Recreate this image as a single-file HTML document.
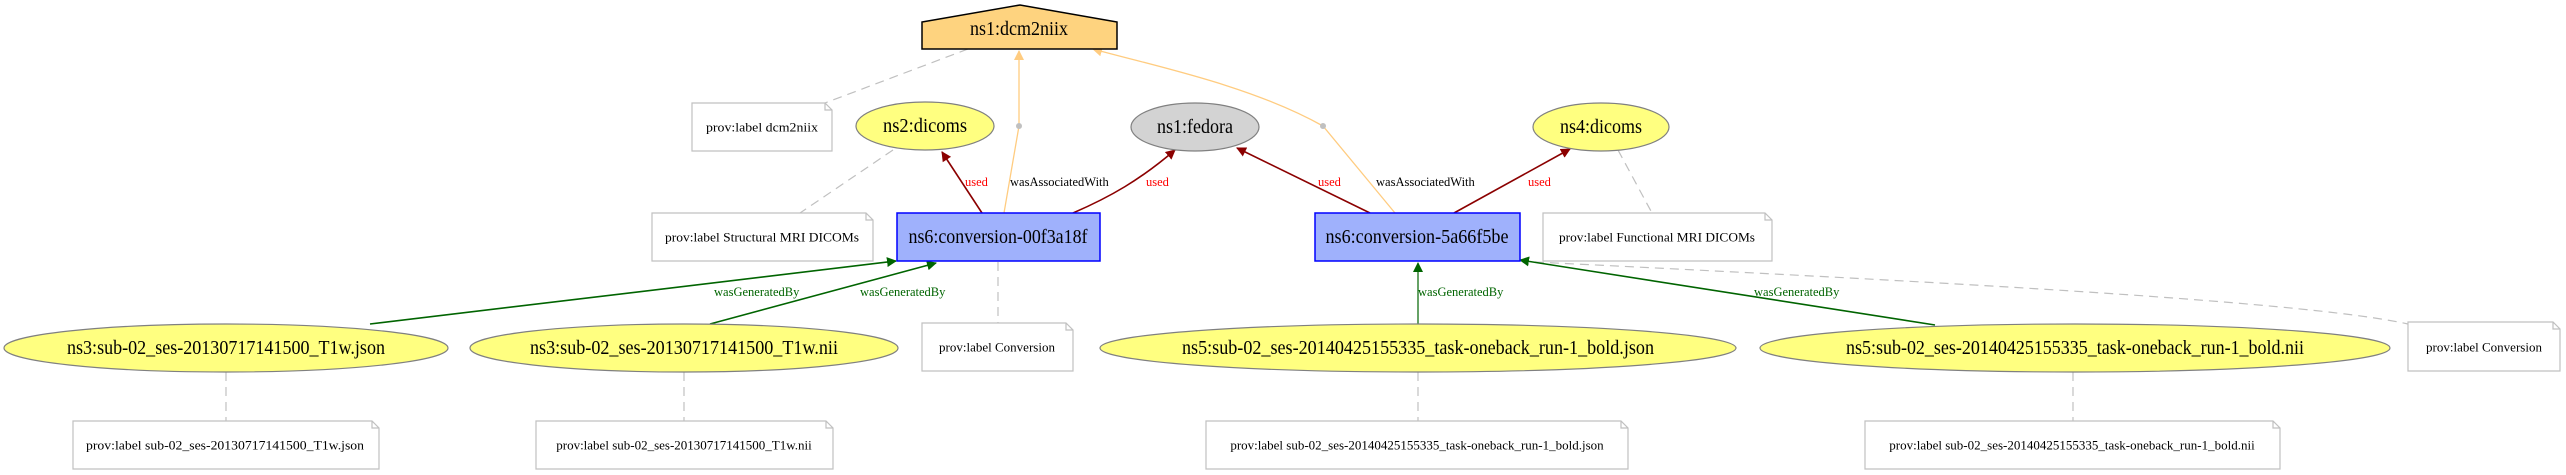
<!DOCTYPE html>
<html><head><meta charset="utf-8"><style>
html,body{margin:0;padding:0;background:#fff;}
svg{display:block;font-family:"Liberation Serif",serif;}
.n{font-size:20px;text-anchor:middle;dominant-baseline:central;}
.note{font-size:13px;text-anchor:middle;dominant-baseline:central;}
.el{font-size:12.5px;}
</style></head><body>
<svg width="2566" height="475" viewBox="0 0 2566 475" xmlns="http://www.w3.org/2000/svg">
<defs>
<marker id="ar" markerWidth="10" markerHeight="10" refX="9" refY="5" orient="auto" markerUnits="userSpaceOnUse" viewBox="0 0 10 10"><path d="M0,0 L10,5 L0,10 z" fill="#8b0000"/></marker>
<marker id="ag" markerWidth="10" markerHeight="10" refX="9" refY="5" orient="auto" markerUnits="userSpaceOnUse" viewBox="0 0 10 10"><path d="M0,0 L10,5 L0,10 z" fill="#006400"/></marker>
<marker id="ao" markerWidth="10" markerHeight="10" refX="9" refY="5" orient="auto" markerUnits="userSpaceOnUse" viewBox="0 0 10 10"><path d="M0,0 L10,5 L0,10 z" fill="#ffcc80"/></marker>
</defs>
<g fill="none" stroke="#c0c0c0" stroke-width="1.2" stroke-dasharray="9,6">
<path d="M968,49 L825,103"/>
<path d="M893,150 L800,213"/>
<path d="M1618,150 L1652,213"/>
<path d="M998,262 L998,323"/>
<path d="M1535,262 C1900,280 2300,300 2408,324"/>
<path d="M226,372 L226,421"/>
<path d="M684,372 L684,421"/>
<path d="M1418,372 L1418,421"/>
<path d="M2073,372 L2073,421"/>
</g>
<g fill="none" stroke="#ffcc80" stroke-width="1.3">
<path d="M1004,213 L1019,126 L1019,51" marker-end="url(#ao)"/>
<path d="M1395,213 L1323,126 C1250,85 1150,65 1093,49" marker-end="url(#ao)"/>
</g>
<circle cx="1019" cy="126" r="3" fill="#c0c0c0"/>
<circle cx="1323" cy="126" r="3" fill="#c0c0c0"/>
<g fill="none" stroke="#8b0000" stroke-width="1.6">
<path d="M982,213 L942,152" marker-end="url(#ar)"/>
<path d="M1073,213 C1110,197 1140,180 1175,150" marker-end="url(#ar)"/>
<path d="M1370,213 L1237,148" marker-end="url(#ar)"/>
<path d="M1454,213 L1570,149" marker-end="url(#ar)"/>
</g>
<g fill="none" stroke="#006400" stroke-width="1.6">
<path d="M370,324 L896,261" marker-end="url(#ag)"/>
<path d="M710,324 L936,263" marker-end="url(#ag)"/>
<path d="M1418,324 L1418,263" stroke-width="1.2" marker-end="url(#ag)"/>
<path d="M1935,325 L1520,260" marker-end="url(#ag)"/>
</g>
<g class="el" fill="#ff0000">
<text x="965" y="186">used</text>
<text x="1146" y="186">used</text>
<text x="1318" y="186">used</text>
<text x="1528" y="186">used</text>
</g>
<g class="el" fill="#000">
<text x="1010" y="186">wasAssociatedWith</text>
<text x="1376" y="186">wasAssociatedWith</text>
</g>
<g class="el" fill="#006400">
<text x="714" y="296">wasGeneratedBy</text>
<text x="860" y="296">wasGeneratedBy</text>
<text x="1418" y="296">wasGeneratedBy</text>
<text x="1754" y="296">wasGeneratedBy</text>
</g>
<path d="M922,49 L922,22 L1020,5 L1117,22 L1117,49 Z" fill="#fed37f" stroke="#000" stroke-width="1.5"/>
<text class="n" x="1019" y="29" textLength="98" lengthAdjust="spacingAndGlyphs">ns1:dcm2niix</text>
<g stroke="#808080" stroke-width="1.2">
<ellipse cx="925" cy="126" rx="69" ry="24" fill="#ffff80"/>
<ellipse cx="1195" cy="127" rx="64" ry="24" fill="#d3d3d3"/>
<ellipse cx="1601" cy="127" rx="68" ry="24" fill="#ffff80"/>
<ellipse cx="226" cy="348" rx="222" ry="24" fill="#ffff80"/>
<ellipse cx="684" cy="348" rx="214" ry="24" fill="#ffff80"/>
<ellipse cx="1418" cy="348" rx="318" ry="24" fill="#ffff80"/>
<ellipse cx="2075" cy="348" rx="315" ry="24" fill="#ffff80"/>
</g>
<text class="n" x="925" y="126" textLength="84" lengthAdjust="spacingAndGlyphs">ns2:dicoms</text>
<text class="n" x="1195" y="127" textLength="76" lengthAdjust="spacingAndGlyphs">ns1:fedora</text>
<text class="n" x="1601" y="127" textLength="82" lengthAdjust="spacingAndGlyphs">ns4:dicoms</text>
<text class="n" x="226" y="348" textLength="318" lengthAdjust="spacingAndGlyphs">ns3:sub-02_ses-20130717141500_T1w.json</text>
<text class="n" x="684" y="348" textLength="308" lengthAdjust="spacingAndGlyphs">ns3:sub-02_ses-20130717141500_T1w.nii</text>
<text class="n" x="1418" y="348" textLength="472" lengthAdjust="spacingAndGlyphs">ns5:sub-02_ses-20140425155335_task-oneback_run-1_bold.json</text>
<text class="n" x="2075" y="348" textLength="458" lengthAdjust="spacingAndGlyphs">ns5:sub-02_ses-20140425155335_task-oneback_run-1_bold.nii</text>
<rect x="897" y="213" width="203" height="48" fill="#9fb1fc" stroke="#0000ff" stroke-width="1.5"/>
<text class="n" x="998" y="237" textLength="179" lengthAdjust="spacingAndGlyphs">ns6:conversion-00f3a18f</text>
<rect x="1315" y="213" width="205" height="48" fill="#9fb1fc" stroke="#0000ff" stroke-width="1.5"/>
<text class="n" x="1417" y="237" textLength="183" lengthAdjust="spacingAndGlyphs">ns6:conversion-5a66f5be</text>
<g fill="#fff" stroke="#c0c0c0" stroke-width="1.2">
<path d="M692,103 H825 L832,110 V151 H692 Z M825,103 V110 H832"/>
<path d="M652,213 H866 L873,220 V261 H652 Z M866,213 V220 H873"/>
<path d="M1543,213 H1765 L1772,220 V261 H1543 Z M1765,213 V220 H1772"/>
<path d="M922,323 H1066 L1073,330 V371 H922 Z M1066,323 V330 H1073"/>
<path d="M2408,322 H2553 L2560,329 V371 H2408 Z M2553,322 V329 H2560"/>
<path d="M73,421 H372 L379,428 V469 H73 Z M372,421 V428 H379"/>
<path d="M536,421 H826 L833,428 V469 H536 Z M826,421 V428 H833"/>
<path d="M1206,421 H1621 L1628,428 V469 H1206 Z M1621,421 V428 H1628"/>
<path d="M1865,421 H2273 L2280,428 V469 H1865 Z M2273,421 V428 H2280"/>
</g>
<g class="note" fill="#000">
<text x="762" y="127" textLength="112" lengthAdjust="spacingAndGlyphs">prov:label dcm2niix</text>
<text x="762" y="237" textLength="194" lengthAdjust="spacingAndGlyphs">prov:label Structural MRI DICOMs</text>
<text x="1657" y="237" textLength="196" lengthAdjust="spacingAndGlyphs">prov:label Functional MRI DICOMs</text>
<text x="997" y="347">prov:label Conversion</text>
<text x="2484" y="347">prov:label Conversion</text>
<text x="225" y="445" textLength="278" lengthAdjust="spacingAndGlyphs">prov:label sub-02_ses-20130717141500_T1w.json</text>
<text x="684" y="445">prov:label sub-02_ses-20130717141500_T1w.nii</text>
<text x="1417" y="445">prov:label sub-02_ses-20140425155335_task-oneback_run-1_bold.json</text>
<text x="2072" y="445">prov:label sub-02_ses-20140425155335_task-oneback_run-1_bold.nii</text>
</g>
</svg>
</body></html>
